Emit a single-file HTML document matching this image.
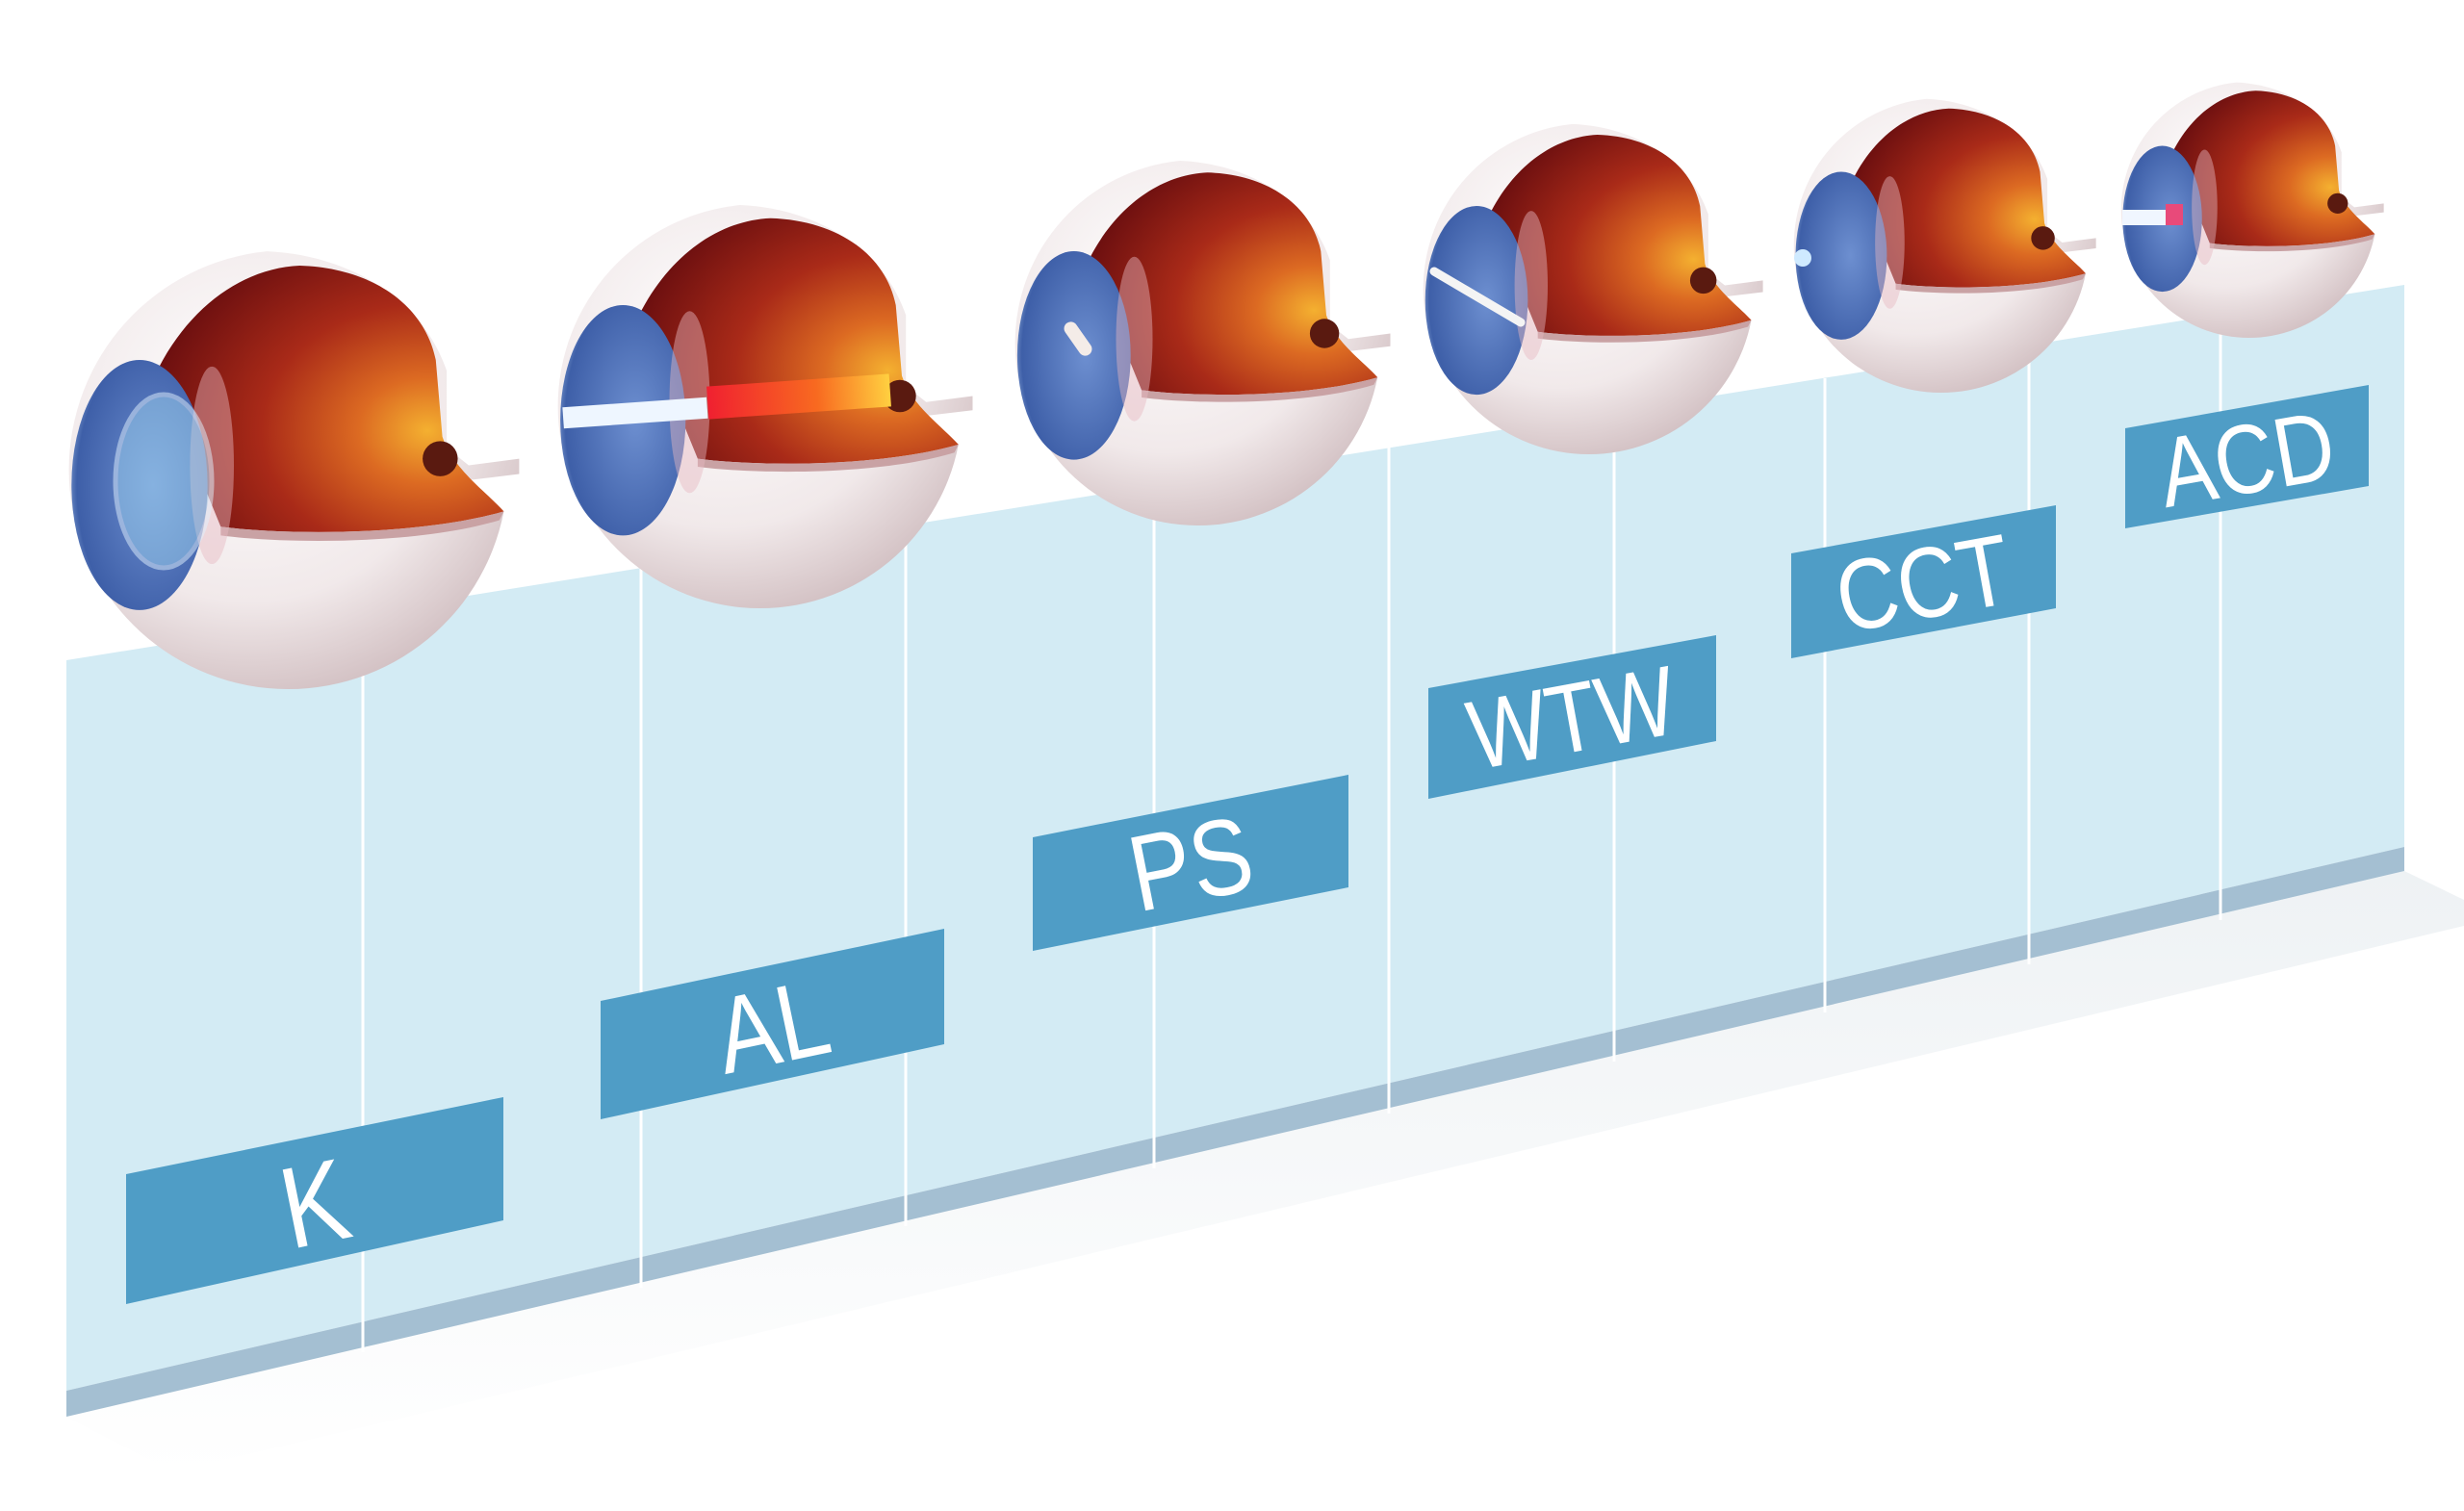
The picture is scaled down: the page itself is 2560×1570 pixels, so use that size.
<!DOCTYPE html>
<html><head><meta charset="utf-8"><style>
html,body{margin:0;padding:0;background:#fff;width:2560px;height:1570px;overflow:hidden}
svg{display:block}
text{font-family:"Liberation Sans",sans-serif;fill:#fff}
</style></head><body>
<svg width="2560" height="1570" viewBox="0 0 2560 1570" xmlns="http://www.w3.org/2000/svg">
<defs>
<radialGradient id="sph" cx="0.4" cy="0.35" r="0.75">
<stop offset="0" stop-color="#ffffff"/><stop offset="0.6" stop-color="#f1e9ea"/><stop offset="1" stop-color="#c9b4b7"/>
</radialGradient>
<radialGradient id="cav" cx="0.78" cy="0.62" r="0.8">
<stop offset="0" stop-color="#f4b030"/><stop offset="0.25" stop-color="#dc6a22"/><stop offset="0.6" stop-color="#a92a18"/><stop offset="1" stop-color="#6e1010"/>
</radialGradient>
<radialGradient id="cor" cx="0.6" cy="0.5" r="0.7">
<stop offset="0" stop-color="#6d8fd0"/><stop offset="0.8" stop-color="#3e5fa8"/><stop offset="1" stop-color="#a9c6ea"/>
</radialGradient>
<linearGradient id="beam" x1="0" x2="1">
<stop offset="0" stop-color="#f02030"/><stop offset="0.6" stop-color="#f86a20"/><stop offset="1" stop-color="#ffd040"/>
</linearGradient>
<linearGradient id="shad" x1="0" y1="0" x2="0" y2="1">
<stop offset="0" stop-color="#e3e9ed"/><stop offset="1" stop-color="#ffffff"/>
</linearGradient>
<g id="eye">
<path d="M0.98,0.19 A1,1 0 1 1 -0.1,-0.995 C0.25,-0.98 0.6,-0.8 0.72,-0.45 L0.72,-0.1 L0.82,-0.02 L1.05,-0.05 L1.05,0.02 L0.8,0.05 Z" fill="url(#sph)"/>
<path d="M-0.6,-0.45 C-0.45,-0.75 -0.2,-0.92 0.05,-0.93 C0.38,-0.92 0.62,-0.75 0.67,-0.5 L0.7,-0.15 C0.75,0 0.9,0.1 0.98,0.19 C0.6,0.3 0,0.3 -0.31,0.26 Z" fill="url(#cav)"/>
<path d="M-0.31,0.26 C0,0.3 0.6,0.3 0.98,0.19 L0.96,0.23 C0.6,0.34 0,0.34 -0.31,0.3 Z" fill="#c9a2a4"/>
<circle cx="0.69" cy="-0.05" r="0.08" fill="#5a1a10"/>
<ellipse cx="-0.68" cy="0.07" rx="0.31" ry="0.57" fill="url(#cor)"/>
<ellipse cx="-0.35" cy="-0.02" rx="0.1" ry="0.45" fill="#e6b8c0" opacity="0.45"/>
</g>
</defs>
<polygon points="69,1472 2498,905 2560,935 2560,962 180,1530" fill="url(#shad)" opacity="0.6"/>
<polygon points="69,686 2498,296 2498,880 69,1445" fill="#d3ebf4"/>
<polygon points="69,1445 2498,880 2498,905 69,1472" fill="#a4bfd2"/>
<g stroke="#ffffff" stroke-width="3">
<line x1="377" y1="640" x2="377" y2="1405"/>
<line x1="666" y1="590" x2="666" y2="1338"/>
<line x1="941" y1="546" x2="941" y2="1274"/>
<line x1="1199" y1="505" x2="1199" y2="1214"/>
<line x1="1443" y1="465" x2="1443" y2="1157"/>
<line x1="1677" y1="428" x2="1677" y2="1103"/>
<line x1="1896" y1="393" x2="1896" y2="1052"/>
<line x1="2108" y1="359" x2="2108" y2="1002"/>
<line x1="2307" y1="327" x2="2307" y2="956"/>
</g>
<use href="#eye" transform="translate(300,488) scale(228)"/>
<ellipse cx="170" cy="500" rx="50" ry="90" fill="#9fd4f0" opacity="0.5" stroke="#e0f2ff" stroke-width="5"/>
<use href="#eye" transform="translate(790,422) scale(210)"/>
<rect x="585" y="418" width="150" height="22" fill="#eef6ff" transform="rotate(-4 660 430)"/>
<rect x="735" y="395" width="190" height="34" fill="url(#beam)" transform="rotate(-4 830 412)"/>
<use href="#eye" transform="translate(1245,356) scale(190)"/>
<rect x="1100" y="345" width="40" height="14" rx="7" fill="#f4ece8" transform="rotate(55 1120 352)"/>
<use href="#eye" transform="translate(1651,300) scale(172)"/>
<line x1="1490" y1="282" x2="1580" y2="335" stroke="#f4f4f4" stroke-width="9" stroke-linecap="round"/>
<use href="#eye" transform="translate(2017,255) scale(153)"/>
<circle cx="1873" cy="268" r="9" fill="#cfeaff"/>
<use href="#eye" transform="translate(2337,218) scale(133)"/>
<rect x="2205" y="218" width="50" height="16" fill="#f0f6ff"/>
<rect x="2250" y="212" width="18" height="22" fill="#e84a7a"/>
<polygon points="131,1220 523,1140 523,1268 131,1355" fill="#4f9dc6"/>
<polygon points="624,1040 981,965 981,1085 624,1163" fill="#4f9dc6"/>
<polygon points="1073,870 1401,805 1401,922 1073,988" fill="#4f9dc6"/>
<polygon points="1484,715 1783,660 1783,770 1484,830" fill="#4f9dc6"/>
<polygon points="1861,575 2136,525 2136,632 1861,684" fill="#4f9dc6"/>
<polygon points="2208,445 2461,400 2461,505 2208,549" fill="#4f9dc6"/>
<g transform="translate(327,1250) rotate(-11.5) scale(0.85,1)"><text x="0" y="42" font-size="120" text-anchor="middle">K</text></g>
<g transform="translate(802,1065) rotate(-11.8) scale(0.85,1)"><text x="0" y="40" font-size="112" text-anchor="middle">AL</text></g>
<g transform="translate(1237,896) rotate(-11.2) scale(0.85,1)"><text x="0" y="40" font-size="112" text-anchor="middle">PS</text></g>
<g transform="translate(1633,745) rotate(-10.4) scale(0.85,1)"><text x="0" y="36" font-size="102" text-anchor="middle">WTW</text></g>
<g transform="translate(1998,605) rotate(-10.3) scale(0.85,1)"><text x="0" y="37" font-size="104" text-anchor="middle">CCT</text></g>
<g transform="translate(2334,476) rotate(-10) scale(0.85,1)"><text x="0" y="36" font-size="102" text-anchor="middle">ACD</text></g>
</svg>
</body></html>
